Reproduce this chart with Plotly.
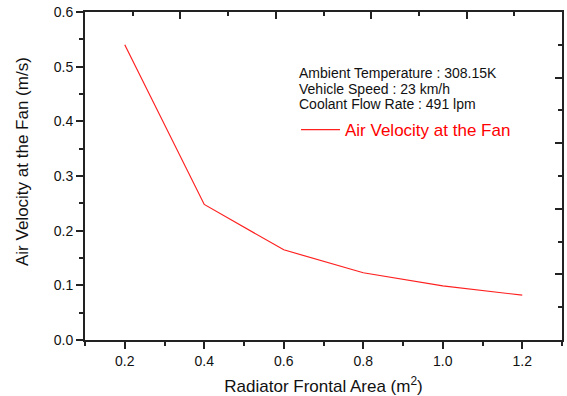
import plotly.graph_objects as go

area = [0.2, 0.4, 0.6, 0.8, 1.0, 1.2]
velocity = [0.540, 0.248, 0.165, 0.123, 0.099, 0.082]
info_lines = ["Ambient Temperature : 308.15K", "Vehicle Speed : 23 km/h", "Coolant Flow Rate : 491 lpm"]
series_name = "Air Velocity at the Fan"

W, H = 567, 396
L, R, T, B = 85, 5, 12, 56
pw, ph = W - L - R, H - T - B

def px_x(p):
    return (p - L) / pw

def px_y(p):
    return (H - B - p) / ph

FONT = "Liberation Sans, Arial, sans-serif"
AX = "#222222"

fig = go.Figure()
fig.add_trace(go.Scatter(x=area, y=velocity, mode="lines", name=series_name,
                         line=dict(color="#ff2020", width=1.2)))
# invisible trace to realize the mirror frame axes
fig.add_trace(go.Scatter(x=[0, 1], y=[0, 1], xaxis="x2", yaxis="y2", mode="lines",
                         line=dict(color="rgba(0,0,0,0)"), showlegend=False, hoverinfo="skip"))

fig.update_layout(
    width=W, height=H,
    margin=dict(l=L, r=R, t=T, b=B, autoexpand=False),
    paper_bgcolor="white", plot_bgcolor="white",
    font=dict(family=FONT, color="#111111"),
    showlegend=True,
    legend=dict(x=px_x(296), y=px_y(130), xanchor="left", yanchor="middle",
                bgcolor="rgba(0,0,0,0)", font=dict(size=17, color="#ff0000", family=FONT),
                itemwidth=39),
    xaxis=dict(range=[0.1, 1.3], tickmode="linear", tick0=0.2, dtick=0.2, tickformat=".1f",
               ticks="outside", ticklen=7, tickwidth=1.5, tickcolor=AX, automargin=False,
               minor=dict(tickmode="linear", tick0=0.1, dtick=0.1, ticks="outside", ticklen=4, tickwidth=1.5, tickcolor=AX),
               showline=True, linecolor=AX, linewidth=2, showgrid=False, zeroline=False,
               tickfont=dict(size=14, family=FONT, color="#111111"),
               title=dict(text="Radiator Frontal Area (m<sup>2</sup>)", font=dict(size=17, family=FONT, color="#111111"), standoff=14)),
    yaxis=dict(range=[0, 0.6], tickmode="linear", tick0=0, dtick=0.1, tickformat=".1f",
               ticks="outside", ticklen=7, tickwidth=1.5, tickcolor=AX, automargin=False,
               minor=dict(tickmode="linear", tick0=0, dtick=0.05, ticks="outside", ticklen=4, tickwidth=1.5, tickcolor=AX),
               showline=True, linecolor=AX, linewidth=2, showgrid=False, zeroline=False,
               tickfont=dict(size=14, family=FONT, color="#111111")),
    xaxis2=dict(overlaying="x", side="top", range=[0, 1], tickmode="linear", tick0=0, dtick=0.2,
                ticks="inside", ticklen=7, tickwidth=1.5, tickcolor=AX, showticklabels=False, automargin=False,
                minor=dict(tickmode="linear", tick0=0, dtick=0.1, ticks="inside", ticklen=4, tickwidth=1.5, tickcolor=AX),
                showline=True, linecolor=AX, linewidth=2, showgrid=False, zeroline=False),
    yaxis2=dict(overlaying="y", side="right", range=[0, 1], tickmode="linear", tick0=0, dtick=0.2,
                ticks="inside", ticklen=7, tickwidth=1.5, tickcolor=AX, showticklabels=False, automargin=False,
                minor=dict(tickmode="linear", tick0=0, dtick=0.1, ticks="inside", ticklen=4, tickwidth=1.5, tickcolor=AX),
                showline=True, linecolor=AX, linewidth=2, showgrid=False, zeroline=False),
)

fig.add_annotation(text="Air Velocity at the Fan (m/s)", textangle=-90, xref="paper", yref="paper",
                   x=px_x(22), y=px_y(162), xanchor="center", yanchor="middle", showarrow=False,
                   font=dict(size=17, family=FONT, color="#111111"))

for i, line in enumerate(info_lines):
    fig.add_annotation(text=line, xref="paper", yref="paper", x=px_x(297), y=px_y(73 + 15.7 * i),
                       xanchor="left", yanchor="middle", showarrow=False,
                       font=dict(size=14, family=FONT, color="#111111"))

fig.write_html("out.html")
